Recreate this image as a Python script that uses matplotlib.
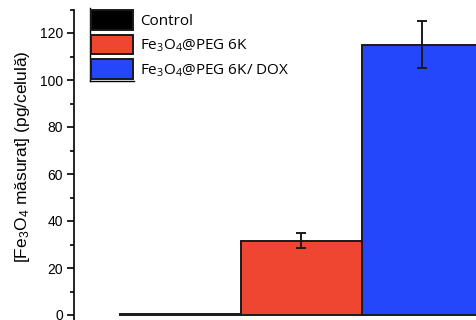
import matplotlib
matplotlib.use('Agg')
import matplotlib.pyplot as plt
from matplotlib.lines import Line2D
from matplotlib.ticker import MultipleLocator

# Iron oxide uptake per cell for each sample
samples = ['Control', 'Fe$_3$O$_4$@PEG 6K', 'Fe$_3$O$_4$@PEG 6K/ DOX']
uptake = [0.4, 31.5, 115.0]
uptake_err = [0.0, 3.2, 10.0]
colors = ['#000000', '#ee4631', '#2447fb']

plt.rcParams['font.family'] = ['Liberation Sans', 'DejaVu Sans']
plt.rcParams['mathtext.default'] = 'regular'

W, H = 476, 320
fig = plt.figure(figsize=(W / 100, H / 100), dpi=100)

# axes run past the right and bottom edges of the figure
ylo, yhi = -5, 130
px_per_unit = 2.35
y0_px = 315
ax_top = y0_px - yhi * px_per_unit
ax_bot = y0_px - ylo * px_per_unit
ax = fig.add_axes([74 / W, (H - ax_bot) / H, (W - 74) / W, (ax_bot - ax_top) / H])

x = list(range(len(samples)))
bars = ax.bar(x, uptake, width=1.0, color=colors, edgecolor='#1a1a1a', linewidth=1.4,
              label=samples)
ax.errorbar(x[1:], uptake[1:], yerr=uptake_err[1:], fmt='none', ecolor='#1a1a1a',
            elinewidth=1.4, capsize=3.5, capthick=1.4)

ax.set_xlim(-0.876, 2.446)
ax.set_ylim(ylo, yhi)
ax.set_yticks([0, 20, 40, 60, 80, 100, 120])
ax.yaxis.set_minor_locator(MultipleLocator(10))
ax.tick_params(axis='y', which='major', direction='out', length=5, width=1.2,
               labelsize=10, pad=3)
ax.tick_params(axis='y', which='minor', direction='out', length=3, width=1.2)
ax.set_xticks([])
for side in ['top', 'right', 'bottom']:
    ax.spines[side].set_visible(False)
ax.spines['left'].set_linewidth(1.2)
ax.spines['left'].set_bounds(ylo, yhi)

ax.set_ylabel('[Fe$_3$O$_4$ măsurat] (pg/celulă)', fontsize=12.5)
ax.yaxis.set_label_coords(-0.105, 0.535)

leg = fig.legend(handles=list(bars), labels=samples, loc='upper left',
                 bbox_to_anchor=(91 / W, 1 - 10 / H), frameon=False,
                 prop={'family': 'Open Sans', 'size': 11},
                 handlelength=2.75, handleheight=1.6, handletextpad=0.45,
                 labelspacing=0.33, borderpad=0, borderaxespad=0)

# partial frame along the left and bottom of the legend swatches
fig.add_artist(Line2D([90 / W, 90 / W], [1 - 8 / H, 1 - 81 / H], color='black',
                      linewidth=1.0, transform=fig.transFigure))
fig.add_artist(Line2D([90 / W, 134 / W], [1 - 81 / H, 1 - 81 / H], color='black',
                      linewidth=1.0, transform=fig.transFigure))

fig.savefig('out.png', dpi=100)
